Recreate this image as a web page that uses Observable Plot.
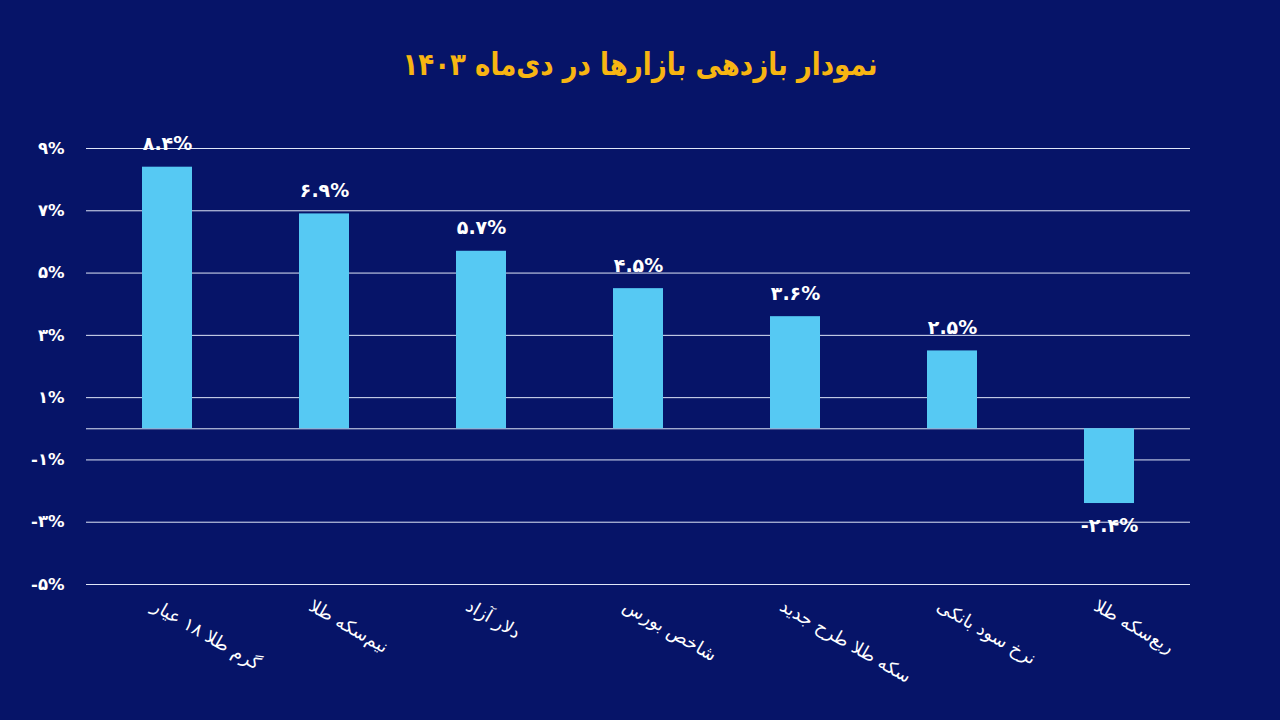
<!DOCTYPE html>
<html>
<head>
<meta charset="utf-8">
<script src="https://cdn.jsdelivr.net/npm/d3@7"></script>
<script src="https://cdn.jsdelivr.net/npm/@observablehq/plot@0.6"></script>
<style>
  html, body { margin: 0; padding: 0; background: #061468; width: 1280px; height: 720px; overflow: hidden; }
  #wrap { position: relative; width: 1280px; height: 720px; }
  #title { position: absolute; top: 38px; left: 0; width: 1280px; text-align: center; direction: rtl;
    font-family: "DejaVu Sans", sans-serif; font-weight: bold; font-size: 31px; color: #f7b512; line-height: 52px;
    transform: scaleX(0.84); transform-origin: 640px 0; }
  #chart { position: absolute; top: 110px; left: 0; }
</style>
</head>
<body>
<div id="wrap">
  <div id="title">نمودار بازدهی بازارها در دی‌ماه ۱۴۰۳</div>
  <div id="chart"></div>
</div>
<script>
const categories = ["گرم طلا ۱۸ عیار", "نیم\u200cسکه طلا", "دلار آزاد", "شاخص بورس", "سکه طلا طرح جدید", "نرخ سود بانکی", "ربع\u200cسکه طلا"];
const values = [8.4, 6.9, 5.7, 4.5, 3.6, 2.5, -2.4];
const gridTicks = [-5, -3, -1, 0, 1, 3, 5, 7, 9];
const labelTicks = [-5, -3, -1, 1, 3, 5, 7, 9];

const fa = s => String(s).replace(/[0-9]/g, d => "۰۱۲۳۴۵۶۷۸۹"[+d]);
const data = categories.map((c, i) => ({category: c, value: values[i]}));
const pos = data.filter(d => d.value >= 0);
const neg = data.filter(d => d.value < 0);

const chart = Plot.plot({
  width: 1280,
  height: 610,
  marginLeft: 86,
  marginRight: 90,
  marginTop: 38,
  marginBottom: 136,
  style: {background: "transparent", fontFamily: "DejaVu Sans, sans-serif", overflow: "visible"},
  x: {domain: categories, paddingInner: 0.68, paddingOuter: 0.34, label: null},
  y: {domain: [-5, 9], label: null},
  marks: [
    Plot.ruleY(gridTicks, {stroke: "#dfe6f7", strokeWidth: 1}),
    Plot.barY(data, {x: "category", y: "value", fill: "#56c9f3"}),
    Plot.text(pos, {x: "category", y: "value", text: d => fa(d.value.toFixed(1)) + "%", dy: -23, fill: "white", fontSize: 19, fontWeight: "bold"}),
    Plot.text(neg, {x: "category", y: "value", text: d => "-" + fa(Math.abs(d.value).toFixed(1)) + "%", dy: 22, fill: "white", fontSize: 19, fontWeight: "bold"}),
    Plot.axisY({ticks: labelTicks, tickSize: 0, tickPadding: 22, tickFormat: d => (d < 0 ? "-" : "") + fa(Math.abs(d)) + "%", fill: "white", fontSize: 16.5, fontWeight: "bold", label: null}),
    Plot.axisX({tickSize: 0, tickPadding: 20, tickRotate: 30, textAnchor: "start", dx: -14, fill: "white", fontSize: 18, label: null})
  ]
});
document.getElementById("chart").appendChild(chart);
</script>
</body>
</html>
